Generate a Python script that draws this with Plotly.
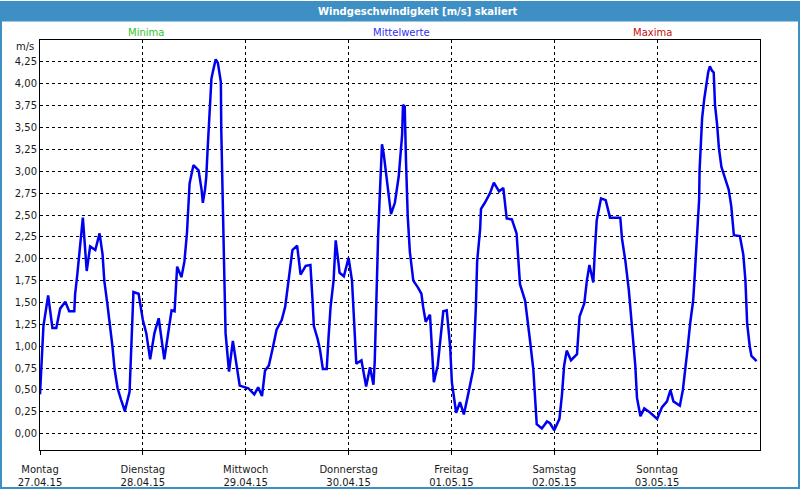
import plotly.graph_objects as go

# time in hours since Monday 27.04.15 00:00 and wind speed (m/s)
hours = [0.0, 0.5, 0.8, 1.9, 2.9, 3.8, 4.7, 5.9, 6.8, 8.0, 8.2, 8.7, 10.0, 10.9, 11.7, 12.9, 13.9,
         14.6, 15.0, 15.7, 16.4, 16.9, 17.4, 18.1, 18.9, 19.8, 20.9, 21.3, 21.8, 23.0, 24.0, 24.8,
         25.7, 26.7, 27.7, 29.0, 30.1, 30.7, 31.4, 31.8, 32.0, 33.0, 33.7, 34.3, 34.7, 34.9, 35.8,
         37.0, 37.7, 38.0, 38.5, 38.8, 39.1, 39.4, 39.7, 40.0, 40.3, 41.0, 41.5, 41.9, 42.2, 42.3,
         42.5, 42.7, 43.0, 43.3, 44.1, 45.0, 45.8, 46.6, 48.6, 50.0, 50.9, 51.8, 52.5, 53.4, 54.4,
         55.2, 56.4, 57.2, 57.6, 58.3, 58.9, 60.0, 60.8, 62.0, 63.1, 63.6, 63.9, 64.8, 65.3, 66.0,
         66.9, 67.3, 67.8, 68.5, 69.0, 69.6, 69.9, 70.9, 72.0, 72.8, 73.1, 73.5, 73.8, 75.0, 76.1,
         77.0, 77.8, 78.1, 78.4, 78.9, 79.3, 79.8, 80.2, 80.7, 81.2, 81.9, 82.8, 83.7, 84.0, 84.5,
         84.7, 85.1, 85.4, 85.8, 86.3, 87.1, 88.2, 89.0, 89.4, 90.0, 91.0, 91.4, 91.9, 92.8, 93.6,
         94.1, 94.9, 95.3, 95.7, 96.1, 97.1, 98.0, 98.9, 99.9, 101.1, 101.7, 102.0, 102.7, 102.9,
         103.8, 105.0, 105.9, 107.1, 108.1, 108.9, 110.1, 111.2, 112.0, 113.2, 114.3, 115.1, 115.9,
         117.1, 118.3, 119.0, 120.0, 121.2, 121.8, 122.3, 122.9, 123.9, 125.3, 125.9, 127.0, 127.6,
         128.2, 129.1, 129.5, 129.9, 130.9, 132.0, 133.0, 135.4, 135.8, 136.6, 137.4, 138.1, 138.9,
         139.3, 140.1, 141.0, 142.4, 144.0, 145.1, 146.3, 147.1, 147.8, 149.3, 150.0, 150.6, 151.1,
         151.7, 152.4, 152.7, 153.1, 153.4, 153.8, 153.9, 154.2, 154.5, 155.0, 155.5, 155.9, 156.3,
         156.8, 157.2, 157.5, 158.0, 158.4, 159.0, 160.0, 160.7, 161.3, 161.9, 163.3, 164.1, 164.6,
         165.0, 165.6, 166.0, 167.2]
speeds = [0.45, 0.95, 1.23, 1.58, 1.21, 1.21, 1.43, 1.51, 1.40, 1.40, 1.60, 1.82, 2.47, 1.86, 2.14, 2.10, 2.29,
          2.05, 1.75, 1.49, 1.23, 1.00, 0.74, 0.52, 0.39, 0.26, 0.48, 1.04, 1.62, 1.60, 1.30, 1.15,
          0.85, 1.15, 1.32, 0.85, 1.23, 1.41, 1.40, 1.71, 1.91, 1.79, 1.97, 2.30, 2.62, 2.86, 3.07,
          3.01, 2.79, 2.64, 2.79, 2.94, 3.24, 3.50, 3.76, 4.06, 4.13, 4.28, 4.24, 4.09, 4.02, 3.46,
          2.90, 2.36, 1.82, 1.15, 0.71, 1.06, 0.78, 0.55, 0.52, 0.45, 0.53, 0.43, 0.72, 0.78, 1.00,
          1.19, 1.30, 1.45, 1.60, 1.88, 2.10, 2.15, 1.82, 1.92, 1.93, 1.52, 1.23, 1.08, 0.97, 0.74,
          0.74, 1.08, 1.45, 1.75, 2.21, 1.97, 1.84, 1.80, 2.01, 1.75, 1.45, 1.19, 0.80, 0.84, 0.54,
          0.76, 0.56, 0.82, 1.45, 2.27, 2.75, 3.31, 3.20, 2.98, 2.75, 2.51, 2.64, 2.94, 3.12, 3.42,
          3.76, 3.74, 3.12, 2.49, 2.08, 1.75, 1.67, 1.60, 1.45, 1.28, 1.36, 1.00, 0.59, 0.78, 1.19,
          1.40, 1.41, 1.23, 1.00, 0.59, 0.24, 0.36, 0.22, 0.45, 0.74, 1.45, 1.97, 2.34, 2.57,
          2.64, 2.75, 2.87, 2.77, 2.81, 2.46, 2.45, 2.29, 1.71, 1.52, 1.08, 0.74, 0.11,
          0.06, 0.14, 0.12, 0.04, 0.17, 0.45, 0.78, 0.95, 0.84, 0.91, 1.34, 1.49, 1.75,
          1.93, 1.73, 2.12, 2.44, 2.69, 2.67, 2.47, 2.47, 2.23, 1.97, 1.64, 1.23, 0.78,
          0.41, 0.20, 0.29, 0.24, 0.17, 0.30, 0.37, 0.50, 0.37, 0.32, 0.50, 0.74, 0.97,
          1.26, 1.52, 1.75, 2.05, 2.38, 2.68, 3.01, 3.35, 3.61, 3.83, 4.01, 4.13, 4.20,
          4.15, 4.13, 3.76, 3.53, 3.27, 3.05, 2.90, 2.79, 2.60, 2.27, 2.26, 2.05, 1.75,
          1.26, 1.00, 0.89, 0.83]

day_names = ["Montag", "Dienstag", "Mittwoch", "Donnerstag", "Freitag", "Samstag", "Sonntag"]
day_dates = ["27.04.15", "28.04.15", "29.04.15", "30.04.15", "01.05.15", "02.05.15", "03.05.15"]
day_hours = [0, 24, 48, 72, 96, 120, 144]

y_ticks = [0, 0.25, 0.5, 0.75, 1.0, 1.25, 1.5, 1.75, 2.0, 2.25, 2.5, 2.75, 3.0, 3.25, 3.5, 3.75, 4.0, 4.25]
y_labels = ["0,00", "0,25", "0,50", "0,75", "1,00", "1,25", "1,50", "1,75", "2,00", "2,25",
            "2,50", "2,75", "3,00", "3,25", "3,50", "3,75", "4,00", "4,25"]

title_text = "Windgeschwindigkeit [m/s] skaliert"
FONT = "DejaVu Sans"
BAR = "#3d8fc4"

fig = go.Figure()
fig.add_trace(go.Scatter(x=hours, y=speeds, mode="lines",
                         line=dict(color="#0000f0", width=2.5), hoverinfo="skip"))

W, H = 800, 500
L, R, T, B = 40, 40, 40, 40
pw, ph = W - L - R, H - T - B

def px(xp):
    return (xp - L) / pw

def py(yp):
    return (H - B - yp) / ph

shapes = [
    dict(type="rect", xref="paper", yref="paper", x0=px(0), x1=px(W), y0=py(21), y1=py(0),
         fillcolor=BAR, line=dict(width=0), layer="above"),
    dict(type="rect", xref="paper", yref="paper", x0=px(0), x1=px(2), y0=py(H), y1=py(0),
         fillcolor=BAR, line=dict(width=0), layer="above"),
    dict(type="rect", xref="paper", yref="paper", x0=px(W - 2), x1=px(W), y0=py(H), y1=py(0),
         fillcolor=BAR, line=dict(width=0), layer="above"),
    dict(type="rect", xref="paper", yref="paper", x0=px(0), x1=px(W), y0=py(H), y1=py(H - 2),
         fillcolor=BAR, line=dict(width=0), layer="above"),
]

annotations = [
    dict(text="<b>" + title_text + "</b>", x=px(418), y=py(10.5), xref="paper", yref="paper",
         showarrow=False, font=dict(family=FONT, size=10, color="white"), xanchor="center", yanchor="middle"),
    dict(text="Minima", x=px(146), y=py(32), xref="paper", yref="paper", showarrow=False,
         font=dict(family=FONT, size=10, color="#2fc42f"), xanchor="center", yanchor="middle"),
    dict(text="Mittelwerte", x=px(401), y=py(32), xref="paper", yref="paper", showarrow=False,
         font=dict(family=FONT, size=10, color="#2f2ff5"), xanchor="center", yanchor="middle"),
    dict(text="Maxima", x=px(652), y=py(32), xref="paper", yref="paper", showarrow=False,
         font=dict(family=FONT, size=10, color="#c41010"), xanchor="center", yanchor="middle"),
    dict(text="m/s", x=px(36), y=py(46.5), xref="paper", yref="paper", showarrow=False,
         font=dict(family=FONT, size=10, color="#1a1a1a"), xanchor="right", yanchor="middle"),
]

fig.update_layout(
    width=W, height=H, autosize=False,
    margin=dict(l=L, r=R, t=T, b=B, pad=0),
    paper_bgcolor="white", plot_bgcolor="white",
    showlegend=False,
    font=dict(family=FONT, size=10, color="#1a1a1a"),
    shapes=shapes, annotations=annotations,
)
fig.update_xaxes(
    range=[0, 168], tickmode="array", tickvals=day_hours,
    ticktext=[n + "<br>" + d for n, d in zip(day_names, day_dates)],
    showgrid=True, gridcolor="black", gridwidth=1, griddash="3px,3px",
    showline=True, linecolor="black", linewidth=1, mirror=True,
    ticks="outside", ticklen=4, tickcolor="black", tickwidth=1,
    ticklabelstandoff=6,
    zeroline=False, fixedrange=True,
)
fig.update_yaxes(
    range=[-0.186, 4.501], tickmode="array", tickvals=y_ticks, ticktext=y_labels,
    showgrid=True, gridcolor="black", gridwidth=1, griddash="3px,3px",
    showline=True, linecolor="black", linewidth=1, mirror=True,
    ticks="", zeroline=False, fixedrange=True,
)

fig.write_html("out.html", config={"displayModeBar": False, "responsive": False},
               post_script="document.body.style.margin='0';document.body.style.padding='0';document.body.style.overflow='hidden';")
